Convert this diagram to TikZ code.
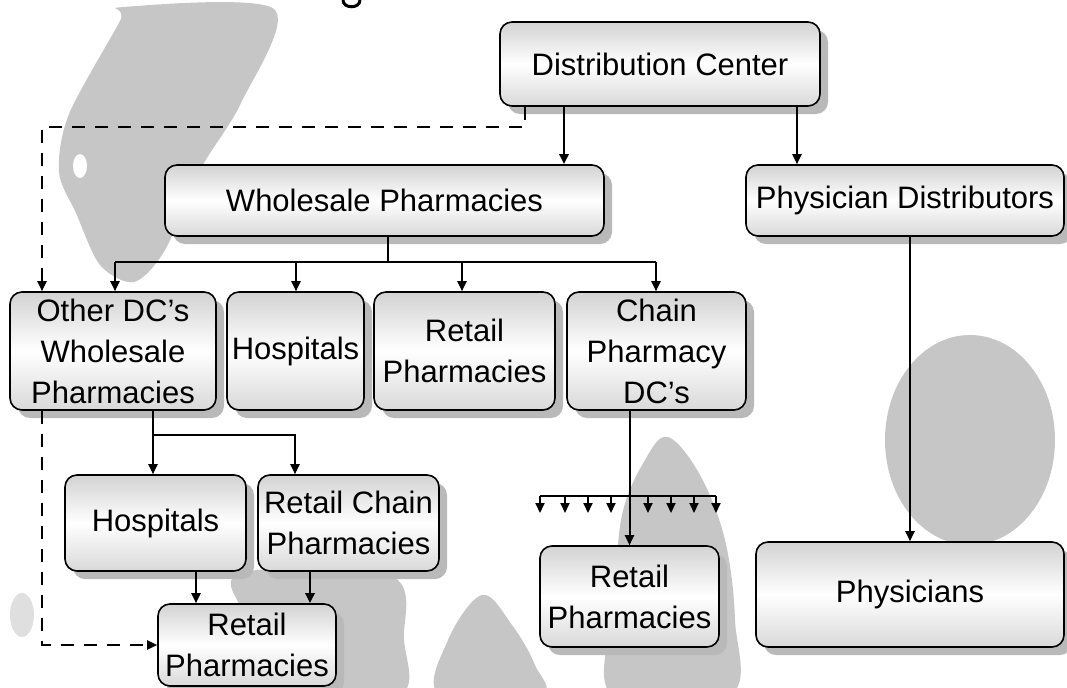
\documentclass[tikz,border=0pt]{standalone}
\usepackage{fontspec}
\setmainfont{Liberation Sans}
\usetikzlibrary{arrows.meta,shadows}

\begin{document}
\begin{tikzpicture}[x=0.5pt,y=-0.5pt,
  box/.style={draw=black, line width=0.8pt, rounded corners=6pt,
    top color=gray!35, bottom color=gray!30, middle color=white,
    drop shadow={shadow xshift=4pt, shadow yshift=-4pt, fill=gray!55, opacity=1},
    align=center, inner sep=1pt, font=\fontsize{15.5}{20.5}\selectfont},
  link/.style={line width=1pt, -{Triangle[length=5pt,width=4.5pt]}},
  dashlink/.style={link, dash pattern=on 6.5pt off 5pt},
  blob/.style={fill=gray!45, draw=none}]
\useasboundingbox (0,0) rectangle (1067,687);
\fill[blob] plot[smooth cycle, tension=0.5] coordinates {(124,7) (274,9) (241,103) (200,170) (165,250) (134,282) (100,265) (76,213) (59,172) (69,114) (120,21)};
\fill[white] (80,166) ellipse [x radius=7, y radius=12];
\fill[blob] (970,440) ellipse [x radius=85, y radius=105];
\fill[blob] plot[smooth cycle, tension=0.6] coordinates {(668,437) (700,475) (725,540) (735,620) (730,695) (612,695) (615,600) (622,515) (645,460)};
\fill[blob] plot[smooth cycle, tension=0.6] coordinates {(482,595) (512,625) (535,665) (540,695) (440,695) (448,640)};
\fill[blob] plot[smooth cycle, tension=0.6] coordinates {(245,572) (390,575) (404,640) (400,695) (300,695) (242,610)};
\fill[blob, fill=gray!25] (22,615) ellipse [x radius=12, y radius=22];
\draw[line width=1.5pt] (343,0) .. controls (343,9) and (360,9) .. (360,0);

\node[box, minimum width=160pt, minimum height=42pt] (dc) at (660,64) {Distribution Center};
\node[box, minimum width=219.5pt, minimum height=35.5pt] (whole) at (384.5,200.5) {Wholesale Pharmacies};
\node[box, minimum width=159pt, minimum height=35.5pt] (physd) at (905,200.5) {Physician Distributors};
\node[box, minimum width=103pt, minimum height=59pt] (other) at (113,351) {Other DC's\\Wholesale\\Pharmacies};
\node[box, minimum width=68.5pt, minimum height=59pt] (hosp1) at (295.5,351) {Hospitals};
\node[box, minimum width=90.5pt, minimum height=59pt] (retail1) at (464.5,351) {Retail\\Pharmacies};
\node[box, minimum width=89.5pt, minimum height=59pt] (chain) at (656.5,351) {Chain\\Pharmacy\\DC's};
\node[box, minimum width=90.5pt, minimum height=48pt] (hosp2) at (155.5,523) {Hospitals};
\node[box, minimum width=90.5pt, minimum height=48pt] (rchain) at (348.5,523) {Retail Chain\\Pharmacies};
\node[box, minimum width=89pt, minimum height=41pt] (retail2) at (247,645) {Retail\\Pharmacies};
\node[box, minimum width=89.5pt, minimum height=50.5pt] (retail3) at (629.5,596.5) {Retail\\Pharmacies};
\node[box, minimum width=154pt, minimum height=52.5pt] (phys) at (910,594.5) {Physicians};

\coordinate (bus) at (388,262);
\coordinate (dashtop) at (42,127);
\coordinate (split) at (153,435);
\coordinate (comb) at (0,496);

\draw[link, line width=1.4pt] (dc.south -| 564,0) -- (564,0 |- whole.north);
\draw[link] (dc.south -| 797,0) -- (797,0 |- physd.north);
\draw[dashlink] (dc.south -| 525,0) |- (dashtop) -- (dashtop |- other.north);
\draw[line width=1.2pt] (whole.south -| bus) -- (bus);
\draw[line width=1pt] (115,0 |- bus) -- (656,0 |- bus);
\foreach \n/\x in {other/115, hosp1/296, retail1/462, chain/656}
  \draw[link] (\x,0 |- bus) -- (\x,0 |- \n.north);
\draw[line width=1.3pt] (other.south -| split) -- (split);
\draw[link] (split) -- (split |- hosp2.north);
\draw[link] (split) -| (295,0 |- rchain.north);
\draw[dashlink] (other.south -| dashtop) |- (retail2.west);
\draw[link] (hosp2.south -| 196,0) -- (196,0 |- retail2.north);
\draw[link, line width=1.3pt] (rchain.south -| 310,0) -- (310,0 |- retail2.north);
\draw[link] (chain.south -| retail3.north) -- (retail3.north);
\draw[line width=1pt] (540,0 |- comb) -- (716,0 |- comb);
\foreach \x in {540,565,588,611,648,671,694,716}
  \draw[link] (\x,0 |- comb) -- ++(0,17);
\draw[link] (physd.south -| phys.north) -- (phys.north);
\end{tikzpicture}
\end{document}
